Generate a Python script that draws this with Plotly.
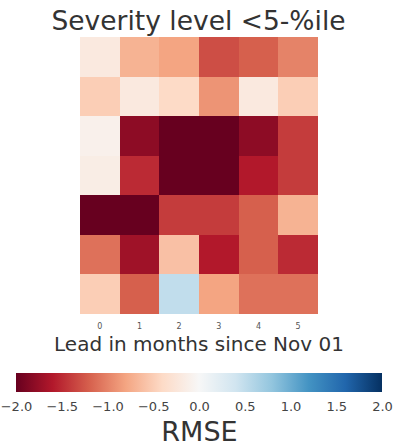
import plotly.graph_objects as go

leads = [0, 1, 2, 3, 4, 5]
rows = [0, 1, 2, 3, 4, 5, 6]
rmse = [
    [-0.2, -0.7, -0.8, -1.3, -1.2, -1.0],
    [-0.5, -0.2, -0.4, -0.9, -0.2, -0.5],
    [-0.1, -1.8, -2.0, -2.0, -1.8, -1.4],
    [-0.15, -1.5, -2.0, -2.0, -1.6, -1.4],
    [-2.0, -2.0, -1.4, -1.4, -1.2, -0.7],
    [-1.1, -1.7, -0.6, -1.6, -1.2, -1.5],
    [-0.5, -1.2, 0.5, -0.8, -1.1, -1.1],
]
cbar_vals = [-2.0, -1.5, -1.0, -0.5, 0.0, 0.5, 1.0, 1.5, 2.0]
cbar_text = ["\u22122.0", "\u22121.5", "\u22121.0", "\u22120.5", "0.0", "0.5", "1.0", "1.5", "2.0"]

rdbu = ["#67001f", "#b2182b", "#d6604d", "#f4a582", "#fddbc7", "#f7f7f7",
        "#d1e5f0", "#92c5de", "#4393c3", "#2166ac", "#053061"]
scale = [[i / 10, c] for i, c in enumerate(rdbu)]

font = "DejaVu Sans"
L, R, T, B = 80, 79, 37, 132
W, H = 397, 446
pw, ph = W - L - R, H - T - B

fig = go.Figure(go.Heatmap(
    z=rmse, x=leads, y=rows, zmin=-2, zmax=2, colorscale=scale,
    xgap=0, ygap=0,
    colorbar=dict(
        orientation="h", yref="container",
        x=(199.5 - L) / pw, xanchor="center", y=1 - 373 / H, yanchor="top",
        lenmode="pixels", len=366, thickness=19, outlinewidth=0,
        xpad=0, ypad=0,
        tickvals=cbar_vals, ticktext=cbar_text,
        ticks="outside", ticklen=4, tickcolor="rgba(0,0,0,0)",
        tickfont=dict(family=font, size=13, color="#444"),
        title=dict(text="RMSE", side="bottom", font=dict(family=font, size=27, color="#333")),
    ),
))
fig.update_layout(
    width=W, height=H,
    margin=dict(l=L, r=R, t=T, b=B),
    paper_bgcolor="white", plot_bgcolor="white",
    title=dict(text="Severity level <5-%ile", x=0.5, xanchor="center", y=1 - 21 / H, yanchor="middle",
               font=dict(family=font, size=26.5, color="#333")),
    font=dict(family=font),
)
fig.update_xaxes(tickvals=leads, ticktext=[str(v) for v in leads], ticks="", showgrid=False, zeroline=False,
                 ticklabelstandoff=6,
                 tickfont=dict(family=font, size=8, color="#555"),
                 title=dict(text="Lead in months since Nov 01", font=dict(family=font, size=20, color="#333"), standoff=6))
fig.update_yaxes(autorange="reversed", showticklabels=False, ticks="", showgrid=False, zeroline=False)
fig.write_html("out.html", config={"displayModeBar": False},
               post_script="document.body.style.margin='0';")
